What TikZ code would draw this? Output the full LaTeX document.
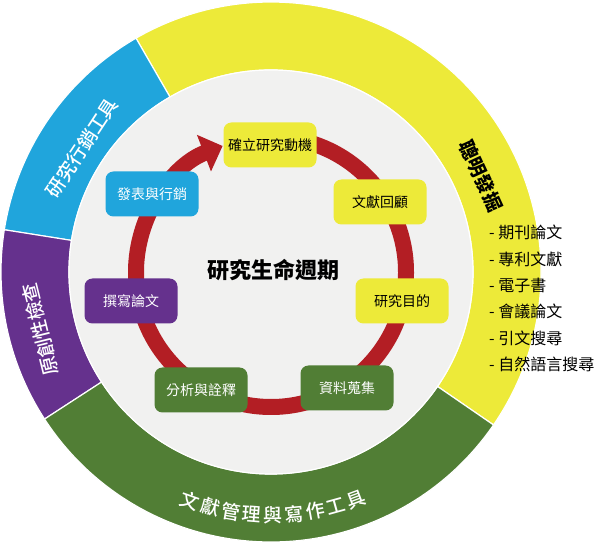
\documentclass[tikz,border=0pt]{standalone}
\usepackage{fontspec}
\setmainfont{Noto Sans CJK TC}
\newfontfamily\ringfont{Noto Sans CJK TC Medium}
\usepackage{tikz}
\usetikzlibrary{arrows.meta}
\definecolor{smartyellow}{RGB}{237,234,57}
\definecolor{marketblue}{RGB}{32,165,220}
\definecolor{checkpurple}{RGB}{101,49,141}
\definecolor{toolgreen}{RGB}{81,126,53}
\definecolor{cyclered}{RGB}{179,30,36}
\definecolor{diskgray}{RGB}{241,241,240}

\begin{document}
\begin{tikzpicture}[x=1pt,y=1pt,line join=round,
  segment/.style={draw=white,line width=1.2pt},
  ringlabel/.style={font=\fontsize{19}{19}\selectfont\ringfont,inner sep=0pt},
  stage/.style={rounded corners=8pt,minimum width=93pt,minimum height=45pt,inner sep=2pt,font=\fontsize{14}{14}\selectfont},
  lifecycle/.style={line width=16pt,draw=cyclered,-{Triangle[length=20pt,width=38pt]}}]
\useasboundingbox (0,0) rectangle (600,544);
\begin{scope}[shift={(271,272)}]
\draw[segment,fill=smartyellow] (-34.5:270) arc[start angle=-34.5,end angle=120,radius=270] -- (120:202) arc[start angle=120,end angle=-34.5,radius=202] -- cycle;
\draw[segment,fill=marketblue] (120:270) arc[start angle=120,end angle=171,radius=270] -- (171:202) arc[start angle=171,end angle=120,radius=202] -- cycle;
\draw[segment,fill=checkpurple] (171:270) arc[start angle=171,end angle=213,radius=270] -- (213:202) arc[start angle=213,end angle=171,radius=202] -- cycle;
\draw[segment,fill=toolgreen] (213:270) arc[start angle=213,end angle=325.5,radius=270] -- (325.5:202) arc[start angle=325.5,end angle=213,radius=202] -- cycle;
\draw[segment,fill=diskgray] (0,0) circle[radius=202];
\draw[lifecycle] (85:135) arc[start angle=85,end angle=-249,radius=135];
% ring labels
\node[ringlabel,text=white,rotate=56.7] (marketing) at (146.7:226) {研究行銷工具};
\node[ringlabel,text=white,rotate=104] (originality) at (194:238) {原創性檢查};
\node[ringlabel,font=\fontsize{19}{19}\selectfont\bfseries,rotate=-65.4] (discovery) at (24.6:231) {聰明發掘};
\foreach \ch [count=\i, evaluate=\i as \ang using 245.5+5*\i] in {文,獻,管,理,與,寫,作,工,具}
  \node[ringlabel,text=white,rotate=\ang-270] (tool\i) at (\ang:243) {\ch};
\end{scope}
% cycle stages
\node[stage,fill=smartyellow] (motive) at (270,399) {確立研究動機};
\node[stage,fill=smartyellow] (review) at (380,342) {文獻回顧};
\node[stage,fill=smartyellow] (purpose) at (402,243) {研究目的};
\node[stage,fill=toolgreen,text=white] (collect) at (347,156) {資料蒐集};
\node[stage,fill=toolgreen,text=white] (analyse) at (201,154) {分析與詮釋};
\node[stage,fill=checkpurple,text=white] (writing) at (131,243) {撰寫論文};
\node[stage,fill=marketblue,text=white] (publish) at (152,350) {發表與行銷};
\node[font=\fontsize{22}{22}\selectfont\bfseries] (title) at (273,274) {研究生命週期};
\node[anchor=north west,align=left,inner sep=0pt,font=\fontsize{16}{26.4}\selectfont] (sources) at (489,319)
  {- 期刊論文\\- 專利文獻\\- 電子書\\- 會議論文\\- 引文搜尋\\- 自然語言搜尋};
\end{tikzpicture}
\end{document}
